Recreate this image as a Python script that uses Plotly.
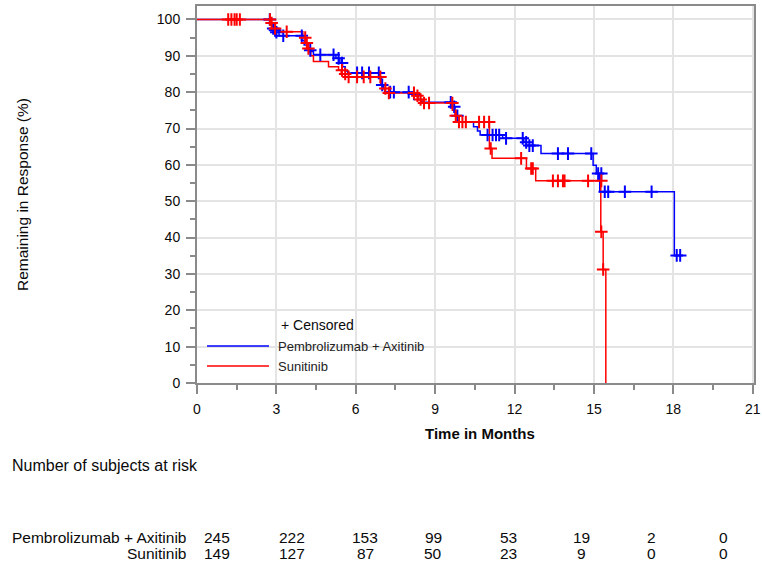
import plotly.graph_objects as go

# ---------------- data ----------------
pa_name = "Pembrolizumab + Axitinib"
su_name = "Sunitinib"

pa_t = [0, 2.80, 2.85, 2.95, 3.10, 3.95, 4.05, 4.15, 4.25, 4.40, 5.25, 5.40, 5.50, 5.60, 5.70,
        6.90, 6.95, 7.05, 7.10, 8.20, 8.35, 8.50, 9.65, 9.75, 9.80, 9.90, 10.45, 10.60, 10.70,
        11.55, 12.35, 12.45, 13.00, 14.97, 15.09, 15.22, 18.04, 18.30]
pa_s = [100, 99.0, 98.0, 97.0, 95.5, 94.3, 93.0, 92.0, 91.2, 90.3, 89.3, 88.0, 87.0, 85.8, 85.3,
        84.0, 82.0, 81.0, 80.0, 79.0, 78.0, 77.2, 76.0, 74.5, 73.0, 71.8, 70.5, 69.3, 68.2,
        67.3, 66.2, 65.3, 63.1, 59.9, 57.6, 52.6, 35.1, 35.1]

su_t = [0, 2.80, 2.90, 3.00, 3.10, 4.00, 4.10, 4.20, 4.30, 4.40, 4.97, 5.35, 5.45, 5.60,
        6.95, 7.00, 7.10, 8.20, 8.35, 8.50, 9.65, 9.75, 9.85, 11.05, 11.15, 12.45, 12.80,
        15.26, 15.35, 15.45]
su_s = [100, 99.0, 98.0, 97.3, 96.6, 95.0, 93.5, 92.0, 90.0, 88.4, 87.0, 86.0, 85.0, 84.2,
        82.5, 81.0, 79.8, 79.0, 78.0, 77.0, 75.0, 73.5, 71.8, 64.5, 61.8, 59.0, 55.6,
        41.6, 31.2, 0.0]

pa_cens_t = [2.75, 2.88, 2.95, 3.00, 3.26, 3.96, 4.28, 4.66, 5.16, 5.35, 5.48, 6.05, 6.24, 6.50,
             6.87, 7.00, 7.30, 7.44, 8.00, 8.20, 9.59, 9.72, 9.84, 10.98, 11.17, 11.30, 11.42,
             11.68, 12.31, 12.44, 12.56, 12.69, 13.64, 14.02, 14.90, 15.16, 15.28, 15.41, 15.54,
             16.17, 17.18, 18.13, 18.26]
pa_cens_s = [100, 97.5, 97.0, 96.5, 95.5, 95.5, 91.5, 90.3, 90.3, 89.3, 88.0, 85.3, 85.3, 85.3,
             85.3, 82.0, 80.0, 80.0, 80.0, 79.5, 77.2, 76.0, 73.5, 68.2, 68.2, 68.2, 68.2,
             67.3, 67.3, 66.2, 65.3, 65.3, 63.1, 63.1, 63.1, 57.6, 57.6, 52.6, 52.6,
             52.6, 52.6, 35.1, 35.1]

su_cens_t = [1.18, 1.30, 1.42, 1.50, 1.62, 2.76, 2.82, 2.95, 3.39, 4.09, 4.15, 4.21, 5.48, 5.60,
             5.73, 6.05, 6.30, 6.55, 6.93, 7.12, 7.25, 8.20, 8.33, 8.45, 8.58, 8.77, 9.65, 9.78,
             9.90, 10.03, 10.16, 10.66, 10.85, 11.04, 11.10, 12.25, 12.63, 12.69, 13.45, 13.64,
             13.83, 13.89, 14.78, 15.28, 15.28, 15.35]
su_cens_s = [100, 100, 100, 100, 100, 100, 99.0, 97.5, 96.6, 95.0, 93.5, 92.0, 86.0, 85.0,
             84.2, 84.2, 84.2, 84.2, 84.2, 81.0, 79.8, 79.8, 79.0, 78.0, 77.0, 77.0, 77.0, 73.5,
             71.8, 71.8, 71.8, 71.8, 71.8, 71.8, 64.5, 61.8, 59.0, 59.0, 55.6, 55.6,
             55.6, 55.6, 55.6, 55.6, 41.6, 31.2]

risk_header = "Number of subjects at risk"
risk_pa = [245, 222, 153, 99, 53, 19, 2, 0]
risk_su = [149, 127, 87, 50, 23, 9, 0, 0]

x_ticks = [0, 3, 6, 9, 12, 15, 18, 21]
y_ticks = [0, 10, 20, 30, 40, 50, 60, 70, 80, 90, 100]
x_title = "Time in Months"
y_title = "Remaining in Response (%)"
censor_label = "+ Censored"

# ---------------- layout constants ----------------
W, H = 762, 566
L, R, T, B = 197, 754, 6, 383
BLUE = "#0000FF"
RED = "#FF0000"
FONT = "Liberation Sans, Arial, sans-serif"
TXT = "#0a0a0a"


def px(xp):
    return (xp - L) / (R - L)


def py(yp):
    return (B - yp) / (B - T)


fig = go.Figure()

fig.add_trace(go.Scatter(x=pa_t, y=pa_s, mode="lines", line=dict(color=BLUE, width=1.5, shape="hv"),
                         showlegend=False, hoverinfo="skip"))
fig.add_trace(go.Scatter(x=su_t, y=su_s, mode="lines", line=dict(color=RED, width=1.5, shape="hv"),
                         showlegend=False, hoverinfo="skip"))
fig.add_trace(go.Scatter(x=pa_cens_t, y=pa_cens_s, mode="markers",
                         marker=dict(symbol="cross-thin", size=9, line=dict(color=BLUE, width=2)),
                         showlegend=False, hoverinfo="skip"))
fig.add_trace(go.Scatter(x=su_cens_t, y=su_cens_s, mode="markers",
                         marker=dict(symbol="cross-thin", size=9, line=dict(color=RED, width=2)),
                         showlegend=False, hoverinfo="skip"))

annotations = []
shapes = []

# axis titles
annotations.append(dict(x=px(480), y=py(433), xref="paper", yref="paper", text="<b>" + x_title + "</b>",
                        showarrow=False, xanchor="center", yanchor="middle",
                        font=dict(family=FONT, size=15, color=TXT)))
annotations.append(dict(x=px(22), y=py(195), xref="paper", yref="paper", text=y_title,
                        showarrow=False, xanchor="center", yanchor="middle", textangle=-90,
                        font=dict(family=FONT, size=15.5, color=TXT)))

# legend (inside plot)
annotations.append(dict(x=px(279), y=py(325), xref="paper", yref="paper", text=censor_label,
                        showarrow=False, xanchor="left", yanchor="middle",
                        font=dict(family=FONT, size=14, color=TXT)))
for name, col, ypix in [(pa_name, BLUE, 346), (su_name, RED, 366)]:
    shapes.append(dict(type="line", xref="paper", yref="paper", x0=px(207), x1=px(269),
                       y0=py(ypix), y1=py(ypix), line=dict(color=col, width=1.5)))
    annotations.append(dict(x=px(276), y=py(ypix), xref="paper", yref="paper", text=name,
                            showarrow=False, xanchor="left", yanchor="middle",
                            font=dict(family=FONT, size=13, color="#222")))

# risk table
annotations.append(dict(x=px(10), y=py(465), xref="paper", yref="paper", text=risk_header,
                        showarrow=False, xanchor="left", yanchor="middle",
                        font=dict(family=FONT, size=16, color=TXT)))
col_px = [216.7, 291.7, 365, 433.3, 508.3, 581.7, 651.7, 723.3]
for name, vals, ypix in [(pa_name, risk_pa, 537), (su_name, risk_su, 553)]:
    annotations.append(dict(x=px(188), y=py(ypix), xref="paper", yref="paper", text=name,
                            showarrow=False, xanchor="right", yanchor="middle",
                            font=dict(family=FONT, size=15.5, color=TXT)))
    for cx, v in zip(col_px, vals):
        annotations.append(dict(x=px(cx), y=py(ypix), xref="paper", yref="paper", text=str(v),
                                showarrow=False, xanchor="center", yanchor="middle",
                                font=dict(family=FONT, size=15.5, color=TXT)))

axis_common = dict(showline=True, linecolor="#8a8a8a", linewidth=2, mirror=True,
                   showgrid=True, gridcolor="#e4e4e4", gridwidth=1.5,
                   ticks="outside", ticklen=9, tickcolor="#8a8a8a", tickwidth=1.5,
                   zeroline=False, automargin=False, ticklabelstandoff=3,
                   tickfont=dict(family=FONT, size=14, color=TXT))

fig.update_layout(
    width=W, height=H,
    margin=dict(l=L, r=W - R, t=T, b=H - B, autoexpand=False),
    paper_bgcolor="white", plot_bgcolor="white",
    xaxis=dict(range=[0, 21.05], tickmode="array", tickvals=x_ticks,
               ticktext=[str(v) for v in x_ticks],
               minor=dict(dtick=1.5, ticks="outside", ticklen=5, tickcolor="#8a8a8a", showgrid=False),
               **axis_common),
    yaxis=dict(range=[0, 103.7], tickmode="array", tickvals=y_ticks,
               ticktext=[str(v) for v in y_ticks],
               minor=dict(dtick=5, ticks="outside", ticklen=5, tickcolor="#8a8a8a", showgrid=False),
               **axis_common),
    annotations=annotations,
    shapes=shapes,
    showlegend=False,
)

fig.write_html(
    "out.html",
    config={"displayModeBar": False},
    post_script="document.body.style.margin='0';document.body.style.overflow='hidden';",
)
